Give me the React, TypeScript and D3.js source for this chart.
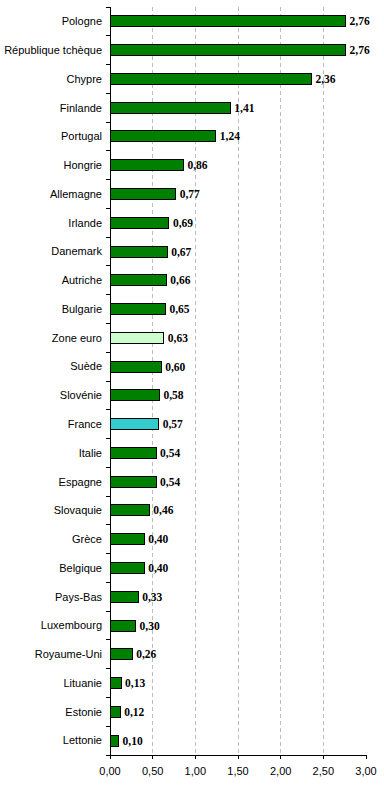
import React from "react";
import * as d3 from "d3";

const categories = [
  "Pologne", "République tchèque", "Chypre", "Finlande", "Portugal", "Hongrie",
  "Allemagne", "Irlande", "Danemark", "Autriche", "Bulgarie", "Zone euro",
  "Suède", "Slovénie", "France", "Italie", "Espagne", "Slovaquie", "Grèce",
  "Belgique", "Pays-Bas", "Luxembourg", "Royaume-Uni", "Lituanie", "Estonie", "Lettonie",
];
const values = [
  2.76, 2.76, 2.36, 1.41, 1.24, 0.86, 0.77, 0.69, 0.67, 0.66, 0.65, 0.63,
  0.6, 0.58, 0.57, 0.54, 0.54, 0.46, 0.4, 0.4, 0.33, 0.3, 0.26, 0.13, 0.12, 0.1,
];
const xTicks = [0, 0.5, 1, 1.5, 2, 2.5, 3];
const highlight: Record<string, string> = { "Zone euro": "#CCFFCC", France: "#33CCCC" };
const baseColor = "#008000";

const W = 384;
const H = 786;
const left = 110;
const right = 366;
const top = 7;
const bottom = 755;

const fmt = (v: number) => v.toFixed(2).replace(".", ",");

export default function App() {
  const x = d3.scaleLinear().domain([0, 3]).range([left, right]);
  const y = d3.scaleBand<string>().domain(categories).range([top, bottom]).paddingInner(0.62).paddingOuter(0.31);
  const band = d3.scaleBand<string>().domain(categories).range([top, bottom]);
  const bh = y.bandwidth();

  return (
    <svg
      width={W}
      height={H}
      style={{ position: "absolute", left: 0, top: 0, background: "#fff" }}
    >
      {/* gridlines */}
      {xTicks.slice(1, -1).map((t) => (
        <line
          key={"g" + t}
          x1={x(t)}
          x2={x(t)}
          y1={top}
          y2={bottom}
          stroke="#BDBDBD"
          strokeDasharray="4,3"
          shapeRendering="crispEdges"
        />
      ))}
      {/* bars */}
      {categories.map((c, i) => (
        <g key={c}>
          <rect
            x={x(0)}
            y={y(c)!}
            width={x(values[i]) - x(0)}
            height={bh}
            fill={highlight[c] || baseColor}
            stroke="#000"
            strokeWidth={1}
            shapeRendering="crispEdges"
          />
          <text
            x={x(values[i]) + 4}
            y={y(c)! + bh / 2}
            dy="0.35em"
            fontFamily="'Liberation Serif', 'Times New Roman', serif"
            fontWeight="bold"
            fontSize={11.5}
            fill="#000"
          >
            {fmt(values[i])}
          </text>
          <text
            x={left - 8}
            y={band(c)! + band.bandwidth() / 2}
            dy="0.35em"
            textAnchor="end"
            fontFamily="'Liberation Sans', Arial, sans-serif"
            fontSize={11}
            fill="#000"
          >
            {c}
          </text>
        </g>
      ))}
      {/* y axis */}
      <line x1={left} x2={left} y1={top} y2={bottom} stroke="#000" shapeRendering="crispEdges" />
      {categories.map((c) => (
        <line
          key={"yt" + c}
          x1={left - 4}
          x2={left}
          y1={band(c)!}
          y2={band(c)!}
          stroke="#000"
          shapeRendering="crispEdges"
        />
      ))}
      <line x1={left - 4} x2={left} y1={bottom} y2={bottom} stroke="#000" shapeRendering="crispEdges" />
      {/* x axis */}
      <line x1={left} x2={right} y1={bottom} y2={bottom} stroke="#000" shapeRendering="crispEdges" />
      {xTicks.map((t) => (
        <g key={"xt" + t}>
          <line x1={x(t)} x2={x(t)} y1={bottom} y2={bottom + 4} stroke="#000" shapeRendering="crispEdges" />
          <text
            x={x(t)}
            y={bottom + 20}
            textAnchor="middle"
            fontFamily="'Liberation Sans', Arial, sans-serif"
            fontSize={11}
            fill="#000"
          >
            {fmt(t)}
          </text>
        </g>
      ))}
    </svg>
  );
}
